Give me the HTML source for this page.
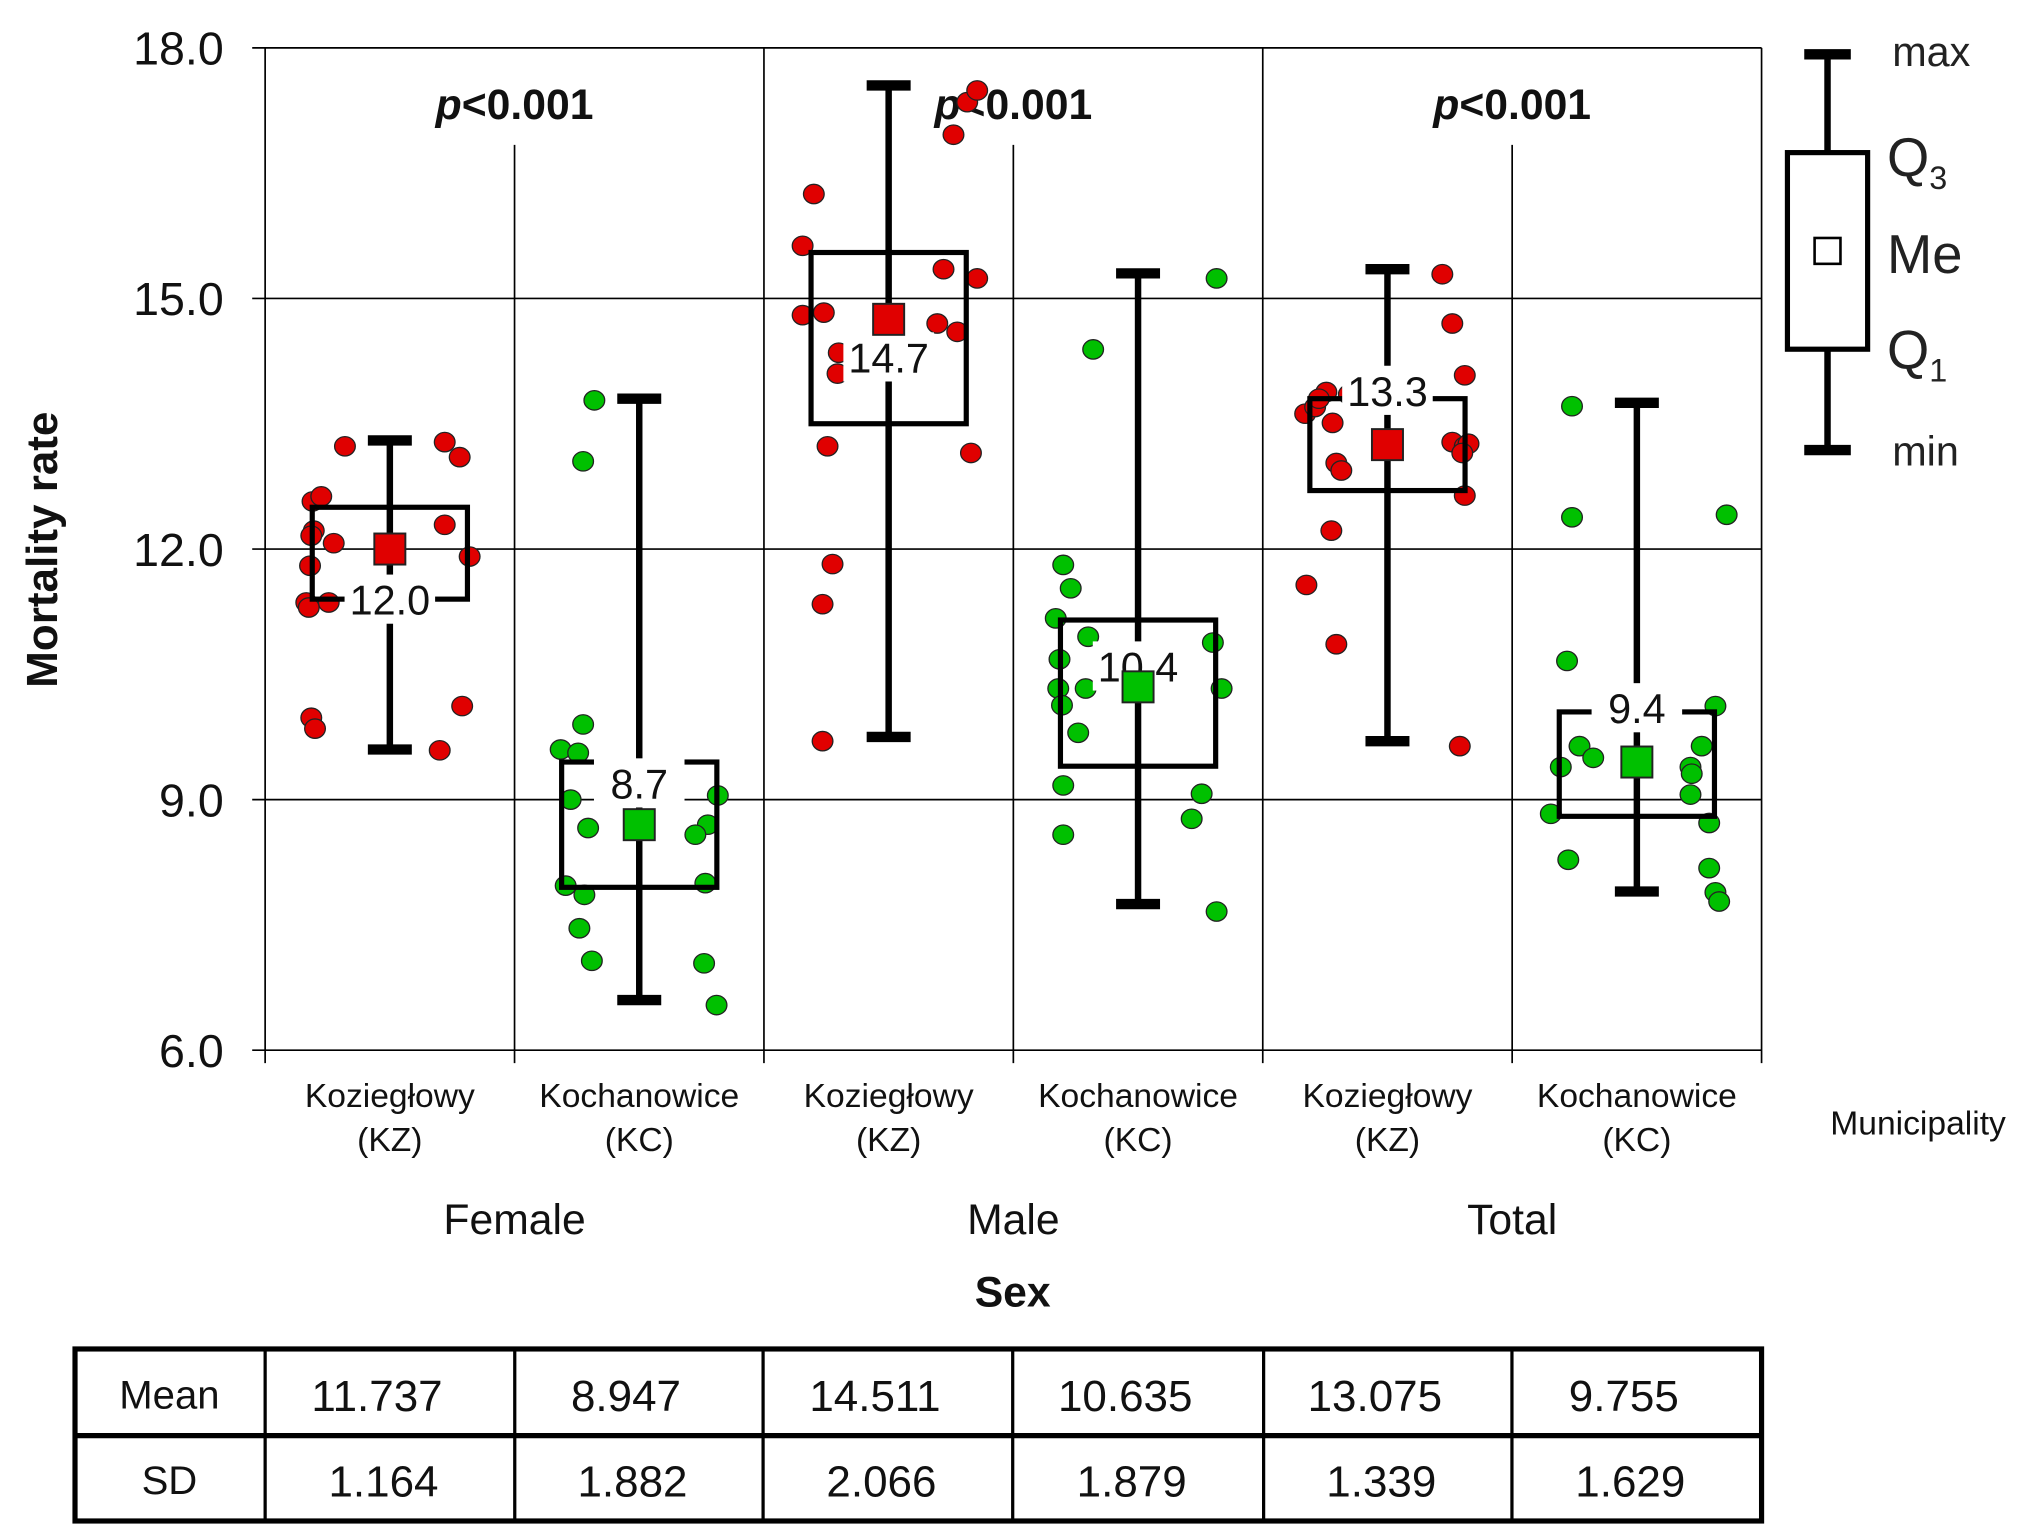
<!DOCTYPE html>
<html><head><meta charset="utf-8"><style>
html,body{margin:0;padding:0;background:#fff;}
svg{display:block;font-family:"Liberation Sans",Arial,sans-serif;}
</style></head><body>
<svg id="chart" width="2028" height="1540" viewBox="0 0 1568 1190.7" preserveAspectRatio="none" xmlns="http://www.w3.org/2000/svg"></svg>
<script>
const categories = ["Female KZ","Female KC","Male KZ","Male KC","Total KZ","Total KC"];
const municipalityTop = ["Koziegłowy","Kochanowice","Koziegłowy","Kochanowice","Koziegłowy","Kochanowice"];
const municipalityBottom = ["(KZ)","(KC)","(KZ)","(KC)","(KZ)","(KC)"];
const groups = ["Female","Male","Total"];
const yTicks = [6, 9, 12, 15, 18];
const yTickLabels = ["6.0","9.0","12.0","15.0","18.0"];
const maxVals = [13.3, 13.8, 17.55, 15.3, 15.35, 13.75];
const q3Vals = [12.5, 9.45, 15.55, 11.15, 13.8, 10.05];
const medVals = [12.0, 8.7, 14.75, 10.35, 13.25, 9.45];
const q1Vals = [11.4, 7.95, 13.5, 9.4, 12.7, 8.8];
const minVals = [9.6, 6.6, 9.75, 7.75, 9.7, 7.9];
const medLabels = ["12.0","8.7","14.7","10.4","13.3","9.4"];
const medLabelAt = [11.4, 9.2, 14.3, 10.6, 13.9, 10.1];
const colors = ["#e00000","#00c000","#e00000","#00c000","#e00000","#00c000"];
const meanVals = ["11.737","8.947","14.511","10.635","13.075","9.755"];
const sdVals = ["1.164","1.882","2.066","1.879","1.339","1.629"];
const ptVals = [
 [13.23,13.28,13.1,12.57,12.63,12.22,12.16,12.07,12.29,11.91,11.8,11.36,11.36,11.3,9.98,9.85,10.12,9.59],
 [13.05,13.78,9.9,9.6,9.56,9.0,8.66,9.05,8.7,8.58,7.97,7.86,7.46,7.07,7.04,6.54,8.0],
 [16.25,15.63,14.8,14.83,14.35,14.1,15.35,15.24,14.7,14.6,13.23,13.15,11.82,11.34,9.7,16.96,17.35,17.49],
 [15.24,14.39,11.81,11.53,11.17,10.95,10.68,10.88,10.33,10.33,10.33,10.13,9.8,9.17,9.07,8.77,8.58,7.66],
 [15.29,14.7,14.08,13.88,13.62,13.7,13.8,13.51,13.85,13.03,12.94,13.28,13.23,13.26,13.15,12.64,12.22,11.57,10.86,9.64],
 [13.71,12.41,12.38,10.66,10.12,9.39,9.64,9.5,9.64,9.39,9.31,9.06,8.83,8.72,8.28,8.18,7.89,7.78]
];
const ptJitter = [
 [-0.36,0.44,0.56,-0.62,-0.55,-0.61,-0.63,-0.45,0.44,0.64,-0.64,-0.67,-0.49,-0.65,-0.63,-0.6,0.58,0.4],
 [-0.45,-0.36,-0.45,-0.63,-0.49,-0.55,-0.41,0.63,0.55,0.45,-0.59,-0.44,-0.48,-0.38,0.52,0.62,0.53],
 [-0.6,-0.69,-0.69,-0.52,-0.4,-0.41,0.44,0.71,0.39,0.55,-0.49,0.66,-0.45,-0.53,-0.53,0.52,0.63,0.71],
 [0.63,-0.36,-0.6,-0.54,-0.66,-0.4,-0.63,0.6,-0.64,-0.42,0.67,-0.61,-0.48,-0.6,0.51,0.43,-0.6,0.63],
 [0.44,0.52,0.62,-0.49,-0.66,-0.58,-0.55,-0.44,-0.31,-0.41,-0.37,0.52,0.62,0.65,0.6,0.62,-0.45,-0.65,-0.41,0.58],
 [-0.52,0.72,-0.52,-0.56,0.63,-0.61,-0.46,-0.35,0.52,0.43,0.44,0.43,-0.69,0.58,-0.55,0.58,0.63,0.66]
];

const NS = "http://www.w3.org/2000/svg";
const svg = document.getElementById("chart");
const X0 = 205, X1 = 1362, Y18 = 37, Y6 = 812;
const colW = (X1 - X0) / categories.length;
function yScale(v){ return Y6 - (v - 6) / 12 * (Y6 - Y18); }
function xCenter(i){ return X0 + colW * (i + 0.5); }
function mk(tag, attrs, parent){
  const e = document.createElementNS(NS, tag);
  for (const k in attrs) e.setAttribute(k, attrs[k]);
  (parent || svg).appendChild(e);
  return e;
}
function txt(s, attrs, parent){ const e = mk("text", attrs, parent); e.textContent = s; return e; }

yTicks.forEach((t, i) => {
  const l = mk("line", {x1:X0-10, x2:X1, y1:yScale(t), y2:yScale(t), stroke:"#000", "stroke-width":1.3});
  
  
  const tl = txt(yTickLabels[i], {x:173, y:yScale(t)+13, "text-anchor":"end", "font-size":36, fill:"#111"});
  
  
});
for (let i = 0; i <= categories.length; i++){
  const x = X0 + colW * i;
  const top = (i % 2 === 0) ? Y18 : 112;
  const l = mk("line", {x1:x, x2:x, y1:top, y2:Y6+10, stroke:"#000", "stroke-width":1.3});
  
  
}
groups.forEach((g, gi) => {
  const t = txt("", {x:X0 + colW*(2*gi+1), y:92, "text-anchor":"middle", "font-size":33, "font-weight":"bold", fill:"#111"});
  t.innerHTML = '<tspan font-style="italic">p</tspan>&lt;0.001';
  
  
});

ptVals.forEach((arr, ci) => {
  arr.forEach((v, k) => {
    const c = mk("ellipse", {cx:xCenter(ci) + ptJitter[ci][k]*colW/2, cy:yScale(v), rx:8, ry:7.5, fill:colors[ci], stroke:"#222", "stroke-width":1});
    
    
  });
});

categories.forEach((c, i) => {
  const g = mk("g", {});
  
  
  const cx = xCenter(i), bw = 60, cw = 17;
  mk("line", {x1:cx, x2:cx, y1:yScale(maxVals[i]), y2:yScale(minVals[i]), stroke:"#000", "stroke-width":5}, g);
  mk("line", {x1:cx-cw, x2:cx+cw, y1:yScale(maxVals[i]), y2:yScale(maxVals[i]), stroke:"#000", "stroke-width":8}, g);
  mk("line", {x1:cx-cw, x2:cx+cw, y1:yScale(minVals[i]), y2:yScale(minVals[i]), stroke:"#000", "stroke-width":8}, g);
  mk("rect", {x:cx-bw, y:yScale(q3Vals[i]), width:2*bw, height:yScale(q1Vals[i])-yScale(q3Vals[i]), fill:"none", stroke:"#000", "stroke-width":4}, g);
  const ly = yScale(medLabelAt[i]);
  mk("rect", {x:cx-35, y:ly-19, width:70, height:38, fill:"#fff"}, g);
  txt(medLabels[i], {x:cx, y:ly+12, "text-anchor":"middle", "font-size":32, fill:"#111"}, g);
  mk("rect", {x:cx-12, y:yScale(medVals[i])-12, width:24, height:24, fill:colors[i], stroke:"#222", "stroke-width":1.5}, g);
});

categories.forEach((c, i) => {
  const a = txt(municipalityTop[i], {x:xCenter(i), y:856, "text-anchor":"middle", "font-size":26, fill:"#111"});
  
  
  const b = txt(municipalityBottom[i], {x:xCenter(i), y:890, "text-anchor":"middle", "font-size":26, fill:"#111"});
  
  
});
groups.forEach((g, gi) => {
  const t = txt(g, {x:X0 + colW*(2*gi+1), y:954, "text-anchor":"middle", "font-size":33, fill:"#111"});
  
  
});
</script>
<script>
(function(){
const NS = "http://www.w3.org/2000/svg";
const svg = document.getElementById("chart");
function mk(tag, attrs){ const e = document.createElementNS(NS, tag); for (const k in attrs) e.setAttribute(k, attrs[k]); svg.appendChild(e); return e; }
function txt(s, attrs){ const e = mk("text", attrs); e.textContent = s; return e; }
let t;
t = txt("Municipality", {x:1483, y:877, "text-anchor":"middle", "font-size":26, fill:"#111"});


t = txt("Sex", {x:783, y:1010, "text-anchor":"middle", "font-size":33, "font-weight":"bold", fill:"#111"});


t = txt("Mortality rate", {x:0, y:0, "text-anchor":"middle", "font-size":34, "font-weight":"bold", fill:"#111", transform:"translate(44,425) rotate(-90)"});



const L = document.createElementNS(NS, "g"); svg.appendChild(L);


L.innerHTML = '<line x1="1413" x2="1413" y1="42" y2="348" stroke="#000" stroke-width="5"/>' +
 '<line x1="1395" x2="1431" y1="42" y2="42" stroke="#000" stroke-width="8"/>' +
 '<line x1="1395" x2="1431" y1="348" y2="348" stroke="#000" stroke-width="8"/>' +
 '<rect x="1382" y="118" width="62" height="152" fill="#fff" stroke="#000" stroke-width="4"/>' +
 '<rect x="1403" y="184" width="20" height="20" fill="#fff" stroke="#000" stroke-width="2"/>' +
 '<text x="1463" y="51" font-size="32" fill="#222">max</text>' +
 '<text x="1459" y="136" font-size="42" fill="#222">Q<tspan font-size="25" dy="10">3</tspan></text>' +
 '<text x="1459" y="211" font-size="42" fill="#222">Me</text>' +
 '<text x="1459" y="285" font-size="42" fill="#222">Q<tspan font-size="25" dy="10">1</tspan></text>' +
 '<text x="1463" y="360" font-size="32" fill="#222">min</text>';

const meanVals = ["11.737","8.947","14.511","10.635","13.075","9.755"];
const sdVals = ["1.164","1.882","2.066","1.879","1.339","1.629"];
const T = document.createElementNS(NS, "g"); svg.appendChild(T);


const cols = [58,205,398,590,783,977,1169,1362];
let h = '<rect x="58" y="1043" width="1304" height="133" fill="none" stroke="#000" stroke-width="4"/>';
h += '<line x1="58" x2="1362" y1="1110" y2="1110" stroke="#000" stroke-width="4"/>';
for (let i = 1; i < cols.length-1; i++) h += `<line x1="${cols[i]}" x2="${cols[i]}" y1="1043" y2="1176" stroke="#000" stroke-width="2.5"/>`;
h += `<text x="131" y="1089" text-anchor="middle" font-size="31" fill="#111">Mean</text>`;
h += `<text x="131" y="1155" text-anchor="middle" font-size="31" fill="#111">SD</text>`;
for (let i = 0; i < 6; i++){
  const cx = (cols[i+1]+cols[i+2])/2;
  h += `<text x="${cx-10}" y="1091" text-anchor="middle" font-size="34" fill="#111">${meanVals[i]}</text>`;
  h += `<text x="${cx-5}" y="1157" text-anchor="middle" font-size="34" fill="#111">${sdVals[i]}</text>`;
}
T.innerHTML = h;
})();
</script>
</body></html>
